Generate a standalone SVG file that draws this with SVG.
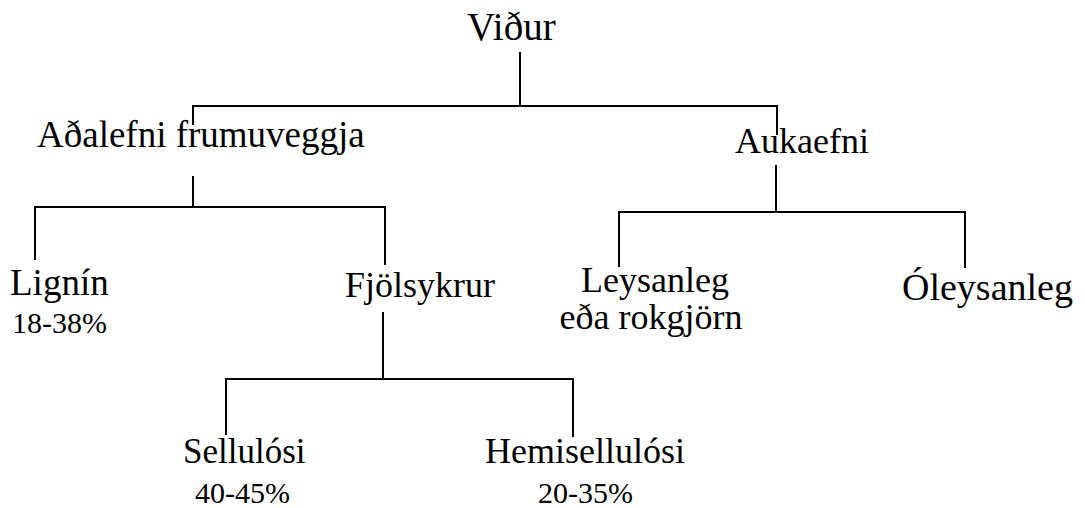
<svg xmlns="http://www.w3.org/2000/svg" width="1085" height="508" viewBox="0 0 1085 508">
<style>
text{font-family:'Liberation Serif','Tinos','Times New Roman','DejaVu Serif',serif;fill:#000}
.t{font-size:36px}
.p{font-size:30px}
.c{stroke:#000;stroke-width:2;fill:none}
</style>
<rect width="1085" height="508" fill="#fff"/>
<g id="connectors" class="c">
<path d="M520 52V106M193 125V106H777V135"/>
<path d="M193 176V207M35 260V207H385V265"/>
<path d="M776 165V212M619 267V212H965V268"/>
<path d="M383 312V379M226 435V379H573V437"/>
</g>
<g id="vidur"><text class="t" x="467" y="40" style="font-size:39px">Viður</text></g>
<g id="adalefni"><text class="t" x="37" y="147" style="font-size:37px">Aðalefni frumuveggja</text></g>
<g id="aukaefni"><text class="t" x="735" y="153">Aukaefni</text></g>
<g id="lignin"><text class="t" x="10" y="295" style="font-size:37px">Lignín</text><text class="p" x="12" y="333">18-38%</text></g>
<g id="fjolsykrur"><text class="t" x="345" y="297">Fjölsykrur</text></g>
<g id="leysanleg"><text class="t" x="655" y="292" text-anchor="middle">Leysanleg</text><text class="t" x="651" y="329" text-anchor="middle">eða rokgjörn</text></g>
<g id="oleysanleg"><text class="t" x="902" y="300" style="font-size:38px">Óleysanleg</text></g>
<g id="sellulosi"><text class="t" x="183" y="463" style="font-size:35px">Sellulósi</text><text class="p" x="195" y="503">40-45%</text></g>
<g id="hemisellulosi"><text class="t" x="485" y="463">Hemisellulósi</text><text class="p" x="538" y="503">20-35%</text></g>
</svg>
